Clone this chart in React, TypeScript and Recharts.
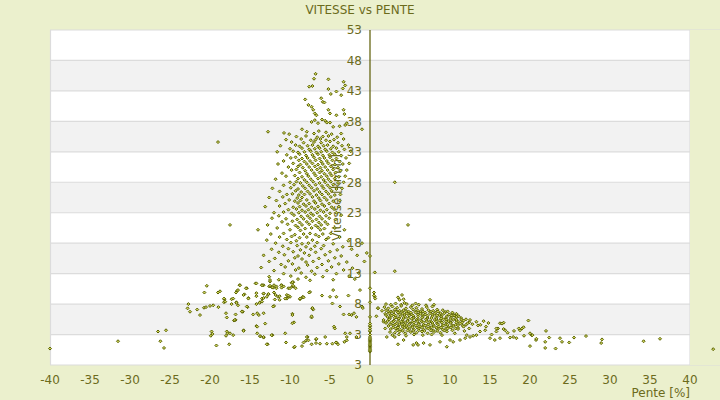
import React from "react";
import {
  ScatterChart,
  Scatter,
  XAxis,
  YAxis,
  CartesianGrid,
  ReferenceArea,
  ReferenceLine,
} from "recharts";

if (typeof document !== "undefined") document.body.style.margin = "0";

// ---- data (pente %, vitesse km/h) ----
const X_TICKS = [-40, -35, -30, -25, -20, -15, -10, -5, 0, 5, 10, 15, 20, 25, 30, 35, 40];
const Y_TICKS = [-2, 3, 8, 13, 18, 23, 28, 33, 38, 43, 48, 53];
const Y_TICK_LABELS = ["3", "3", "8", "13", "18", "23", "28", "33", "38", "43", "48", "53"];

// steep downhill, high speed
const DOWNHILL_FAST: [number, number][] = [
  [-6.8, 45.8], [-7.0, 45.0], [-5.2, 44.9], [-3.3, 44.5], [-7.6, 43.7], [-7.2, 43.8], [-3.1, 43.9],
  [-5.2, 43.3], [-3.4, 43.4], [-4.2, 42.9], [-4.9, 42.5], [-3.6, 42.3], [-8.1, 41.6], [-6.1, 41.8],
  [-5.9, 41.2], [-5.7, 41.1], [-7.7, 40.7], [-7.3, 40.4], [-7.1, 39.9], [-5.2, 39.9], [-3.3, 39.9],
  [-6.9, 39.3], [-5.0, 39.3], [-3.2, 39.2], [-6.7, 39.0], [-4.2, 39.0],
  [-7.3, 37.9], [-6.9, 38.2], [-6.0, 38.3], [-5.6, 38.1], [-6.5, 37.7], [-5.4, 37.8], [-5.0, 37.8], [-2.9, 37.7],
  [-4.6, 37.1], [-3.8, 37.2], [-3.1, 37.4], [-8.5, 36.7], [-1.0, 36.7],
  [-12.75, 36.3], [-7.9, 36.3], [-6.4, 36.4], [-5.5, 36.2], [-10.75, 36.1], [-10.1, 35.9], [-7.0, 36.0], [-4.8, 35.9], [-3.6, 36.0],
  [-9.2, 35.5], [-8.0, 35.6], [-6.6, 35.4], [-5.9, 35.5], [-5.2, 35.6], [-4.1, 35.4],
  [-10.5, 35.0], [-8.6, 35.1], [-7.4, 34.9], [-6.8, 35.0], [-6.2, 35.1], [-5.5, 34.9], [-4.5, 35.0], [-3.3, 35.1],
  [-19.0, 34.6], [-9.8, 34.6], [-8.3, 34.5], [-7.0, 34.6], [-6.1, 34.5], [-5.0, 34.7], [-4.0, 34.5],
  [-11.2, 34.0], [-9.3, 34.1], [-8.8, 33.9], [-7.8, 34.0], [-7.2, 34.1], [-6.5, 33.9], [-5.8, 34.0], [-5.3, 34.1], [-4.6, 33.9], [-3.5, 34.0], [-2.7, 34.1],
  [-10.0, 33.5], [-8.5, 33.6], [-7.6, 33.4], [-6.9, 33.5], [-6.3, 33.6], [-5.6, 33.4], [-4.9, 33.5], [-4.2, 33.6], [-3.2, 33.4],
  [-11.6, 33.0], [-9.6, 33.1], [-9.0, 32.9], [-8.2, 33.0], [-7.4, 33.1], [-6.7, 32.9], [-6.1, 33.0], [-5.4, 33.1], [-4.7, 32.9], [-3.9, 33.0], [-2.4, 33.1],
  [-10.4, 32.5], [-8.8, 32.6], [-8.0, 32.4], [-7.2, 32.5], [-6.5, 32.6], [-5.9, 32.4], [-5.1, 32.5], [-4.4, 32.6], [-3.6, 32.4],
  [-9.9, 32.0], [-9.3, 32.1], [-8.5, 31.9], [-7.8, 32.0], [-7.0, 32.1], [-6.3, 31.9], [-5.7, 32.0], [-5.0, 32.1], [-4.2, 31.9], [-3.0, 32.0],
  [-10.8, 31.5], [-8.9, 31.6], [-8.2, 31.4], [-7.5, 31.5], [-6.8, 31.6], [-6.1, 31.4], [-5.4, 31.5], [-4.7, 31.6], [-3.8, 31.4],
  [-11.5, 31.0], [-9.6, 31.1], [-8.7, 30.9], [-7.9, 31.0], [-7.2, 31.1], [-6.5, 30.9], [-5.9, 31.0], [-5.2, 31.1], [-4.4, 30.9], [-3.4, 31.0], [-2.6, 31.1],
  [-10.2, 30.5], [-9.0, 30.6], [-8.4, 30.4], [-7.6, 30.5], [-6.9, 30.6], [-6.2, 30.4], [-5.6, 30.5], [-4.9, 30.6], [-4.0, 30.4],
  [-9.8, 30.0], [-9.2, 30.1], [-8.1, 29.9], [-7.3, 30.0], [-6.6, 30.1], [-6.0, 29.9], [-5.3, 30.0], [-4.6, 30.1], [-3.7, 29.9], [-2.9, 30.0],
  [-11.0, 29.5], [-8.8, 29.6], [-7.9, 29.4], [-7.0, 29.5], [-6.3, 29.6], [-5.7, 29.4], [-5.0, 29.5], [-4.3, 29.6],
  [-10.5, 29.0], [-9.4, 29.1], [-8.5, 28.9], [-7.7, 29.0], [-6.8, 29.1], [-6.1, 28.9], [-5.4, 29.0], [-4.8, 29.1], [-3.9, 28.9], [-3.1, 29.0],
  [-11.8, 28.5], [-9.0, 28.6], [-8.2, 28.4], [-7.4, 28.5], [-6.5, 28.6], [-5.8, 28.4], [-5.2, 28.5], [-4.4, 28.6],
  [-10.0, 28.0], [-9.2, 28.1], [-8.7, 27.9], [-7.9, 28.0], [-7.1, 28.1], [-6.3, 27.9], [-5.6, 28.0], [-4.9, 28.1], [-4.0, 27.9], [-3.3, 28.0],
  [-10.8, 27.5], [-9.5, 27.6], [-8.4, 27.4], [-7.6, 27.5], [-6.8, 27.6], [-6.0, 27.4], [-5.3, 27.5], [-4.6, 27.6],
  [-12.2, 27.0], [-9.9, 27.1], [-9.0, 26.9], [-8.1, 27.0], [-7.3, 27.1], [-6.6, 26.9], [-5.8, 27.0], [-5.0, 27.1], [-4.2, 26.9], [-3.5, 27.0],
  [-11.3, 26.5], [-9.3, 26.6], [-8.6, 26.4], [-7.8, 26.5], [-7.0, 26.6], [-6.3, 26.4], [-5.5, 26.5], [-4.8, 26.6],
  [-10.4, 26.0], [-9.7, 26.1], [-8.9, 25.9], [-8.2, 26.0], [-7.5, 26.1], [-6.7, 25.9], [-6.0, 26.0], [-5.2, 26.1], [-4.4, 25.9], [-3.7, 26.0],
  [-12.6, 25.5], [-10.9, 25.6], [-9.1, 25.4], [-8.5, 25.5], [-7.2, 25.6], [-6.4, 25.4], [-5.7, 25.5], [-4.9, 25.6],
  [-11.7, 25.0], [-10.1, 25.1], [-9.4, 24.9], [-8.7, 25.0], [-7.9, 25.1], [-7.0, 24.9], [-6.2, 25.0], [-5.4, 25.1], [-4.6, 24.9], [-3.8, 25.0],
  [-10.6, 24.5], [-9.0, 24.6], [-8.3, 24.4], [-7.6, 24.5], [-6.8, 24.6], [-6.0, 24.4], [-5.1, 24.5],
  [-13.1, 24.0], [-11.3, 24.1], [-9.6, 23.9], [-8.8, 24.0], [-8.0, 24.1], [-7.3, 23.9], [-6.5, 24.0], [-5.7, 24.1], [-4.8, 23.9], [-3.9, 24.0],
  [-10.2, 23.5], [-9.2, 23.6], [-8.5, 23.4], [-7.7, 23.5], [-6.9, 23.6], [-6.2, 23.4], [-5.4, 23.5], [-4.5, 23.6],
  [-12.0, 23.0], [-10.8, 23.1], [-9.8, 22.9], [-8.9, 23.0], [-8.1, 23.1], [-7.4, 22.9], [-6.6, 23.0], [-5.8, 23.1], [-5.0, 22.9], [-4.2, 23.0],
  [-11.4, 22.5], [-9.5, 22.6], [-8.6, 22.4], [-7.8, 22.5], [-7.1, 22.6], [-6.3, 22.4], [-5.5, 22.5], [-3.6, 22.6],
  [-12.25, 22.1], [-10.5, 22.0], [-9.1, 21.9], [-8.3, 22.0], [-7.5, 22.1], [-6.7, 21.9], [-6.0, 22.0], [-5.1, 22.1], [-4.3, 21.9],
  [-11.0, 21.5], [-9.7, 21.6], [-8.8, 21.4], [-7.9, 21.5], [-7.2, 21.6], [-6.4, 21.4], [-5.6, 21.5],
  [-17.5, 21.0], [-12.8, 21.0], [-10.3, 21.1], [-9.3, 20.9], [-8.5, 21.0], [-7.6, 21.1], [-6.8, 20.9], [-6.1, 21.0], [-5.3, 21.1],
  [-11.6, 20.5], [-9.0, 20.6], [-8.1, 20.4], [-7.3, 20.5], [-6.5, 20.6], [-5.7, 20.4], [-4.4, 20.5],
  [-14.0, 20.2], [-10.0, 20.2], [-8.7, 20.1], [-6.2, 20.2], [-3.2, 20.2],
  [-12.4, 19.5], [-10.8, 19.6], [-9.4, 19.4], [-8.3, 19.5], [-7.5, 19.6], [-6.8, 19.4], [-5.9, 19.5], [-4.9, 19.6],
  [-11.3, 19.0], [-9.8, 19.1], [-8.8, 18.9], [-7.9, 19.0], [-6.4, 19.1], [-5.2, 18.9], [-3.8, 19.0],
  [-12.9, 18.5], [-10.4, 18.6], [-9.2, 18.4], [-7.2, 18.5], [-5.5, 18.6], [-2.7, 18.4],
  [-11.8, 18.0], [-9.9, 18.1], [-8.5, 17.9], [-7.7, 18.0], [-6.6, 18.1], [-4.6, 17.9], [-1.0, 18.0],
  [-10.9, 17.5], [-9.1, 17.6], [-8.0, 17.4], [-6.9, 17.5], [-5.8, 17.6], [-3.4, 17.4],
  [-12.3, 17.0], [-10.2, 17.1], [-8.7, 16.9], [-7.4, 17.0], [-6.1, 17.1], [-4.1, 16.9], [-2.3, 17.0],
  [-11.4, 16.5], [-9.6, 16.6], [-8.2, 16.4], [-6.8, 16.5], [-5.0, 16.6], [-0.4, 16.4],
  [-13.3, 16.0], [-10.7, 16.1], [-9.0, 15.9], [-7.6, 16.0], [-5.6, 16.1], [-3.6, 15.9], [-1.6, 16.0],
  [-11.9, 15.5], [-9.4, 15.6], [-8.5, 15.4], [-6.4, 15.5], [-4.4, 15.6],
  [-12.6, 15.0], [-10.2, 15.1], [-8.0, 14.9], [-7.1, 15.0], [-5.2, 15.1], [-2.9, 14.9], [-0.7, 15.0],
  [-11.1, 14.5], [-9.7, 14.6], [-7.8, 14.4], [-6.0, 14.5], [-3.9, 14.6],
  [-13.6, 14.0], [-10.6, 14.1], [-8.9, 13.9], [-6.6, 14.0], [-4.8, 14.1], [-2.2, 13.9],
  [-12.0, 13.5], [-9.3, 13.6], [-7.3, 13.4], [-5.4, 13.5], [-3.3, 13.6],
  [-10.8, 13.0], [-8.6, 13.1], [-6.9, 12.9], [-4.2, 13.0], [-1.4, 13.1],
  [-12.6, 12.5], [-9.9, 12.6], [-8.0, 12.4], [-5.9, 12.5], [-2.6, 12.6],
  [-11.4, 12.0], [-9.0, 12.1], [-7.5, 11.9], [-4.6, 12.0], [-1.9, 12.1],
];

// downhill, low speed
const DOWNHILL_SLOW: [number, number][] = [
  [-40, 0.7], [-31.5, 1.9], [-26.5, 3.5], [-25.5, 3.7], [-26.2, 1.9], [-25.75, 0.8],
  [-22.7, 8.0], [-22.8, 7.3], [-22.5, 6.75], [-21.6, 7.1], [-21.25, 6.2], [-20.75, 7.4], [-20.5, 7.5],
  [-20.0, 7.7], [-19.6, 7.8], [-18.95, 7.5], [-20.4, 11.0], [-20.7, 9.9], [-19.0, 9.9], [-18.75, 10.1],
  [-16.3, 11.1], [-16.6, 10.2], [-16.75, 9.9], [-18.2, 8.8], [-18.25, 8.3], [-17.3, 8.8], [-17.1, 8.9],
  [-17.3, 8.0], [-16.7, 8.3], [-16.5, 7.8], [-19.8, 3.5], [-19.7, 3.1], [-19.9, 2.8], [-19.2, 1.2],
  [-18.0, 6.5], [-16.8, 6.3], [-17.0, 5.3], [-17.9, 3.5], [-17.8, 3.2], [-18.0, 2.8], [-17.6, 1.4],
  [-17.1, 2.9], [-15.8, 3.7], [-16.0, 6.8], [-15.3, 7.5], [-14.6, 6.3], [-14.1, 6.5], [-14.2, 4.4],
  [-14.1, 3.2], [-13.7, 2.7], [-13.3, 2.5], [-13.1, 4.8], [-12.8, 1.4], [-12.2, 2.9], [-12.0, 7.7],
  [-10.6, 3.2], [-10.5, 1.7], [-9.7, 6.4], [-9.5, 5.0], [-9.5, 0.9], [-8.5, 1.1], [-8.3, 1.7],
  [-8.0, 2.0], [-7.8, 2.6], [-8.4, 9.1], [-8.75, 8.8], [-9.7, 10.9], [-9.6, 11.6], [-10.2, 9.2],
  [-10.4, 8.9], [-11.5, 9.2], [-11.3, 8.7], [-12.0, 9.9], [-12.3, 10.8], [-12.5, 11.7], [-13.3, 9.7],
  [-13.75, 8.3], [-14.2, 9.8], [-14.3, 11.4], [-13.3, 11.1], [-12.7, 9.6], [-15.2, 9.0], [-15.4, 10.6],
  [-15.7, 9.6], [-17.9, 5.8], [-17.5, 3.2], [-16.8, 5.4], [-15.9, 6.75], [-15.8, 3.6], [-14.1, 4.3],
  [-13.75, 2.75], [-6.75, 2.2], [-6.75, 1.6], [-7.3, 5.8], [-7.1, 7.1], [-7.2, 7.3],
  [-16.25, 11.1], [-16.5, 10.3], [-15.5, 10.6], [-15.8, 9.5], [-15.4, 7.6], [-16.0, 6.75], [-16.9, 5.4],
  [-14.2, 11.4], [-14.2, 9.3], [-14.2, 8.0], [-13.5, 11.1], [-13.3, 9.75], [-12.9, 9.2], [-13.5, 8.4],
  [-12.5, 11.95], [-12.6, 10.9], [-12.1, 10.7], [-11.7, 10.9], [-11.05, 11.1], [-10.8, 10.9],
  [-11.9, 8.75], [-12.1, 7.6], [-13.3, 6.5], [-13.9, 6.2], [-13.3, 2.6], [-12.9, 1.4], [-12.3, 2.9],
  [-11.05, 10.7], [-10.2, 10.6], [-9.8, 11.5], [-9.6, 10.9], [-10.4, 9.5], [-10.6, 8.9], [-10.0, 9.2],
  [-9.7, 6.2], [-9.7, 4.85], [-9.4, 1.0], [-8.75, 8.9], [-8.4, 9.2], [-7.5, 10.0], [-7.2, 7.35],
  [-7.3, 6.0], [-7.9, 2.6], [-7.3, 1.4], [-7.7, 2.05], [-6.7, 2.3], [-6.25, 1.5], [-6.0, 9.4],
  [-5.6, 2.6], [-5.4, 1.5], [-5.0, 9.2], [-4.6, 10.3], [-4.7, 8.1], [-4.2, 9.2], [-4.2, 1.7],
  [-4.5, 4.3], [-4.4, 4.0], [-4.0, 1.4], [-3.75, 7.6], [-3.3, 6.3], [-2.9, 2.6], [-2.7, 9.4],
  [-2.6, 6.3], [-2.5, 3.2], [-2.3, 6.2], [-2.0, 6.5], [-1.7, 5.9], [-1.25, 10.3], [-1.0, 7.6],
  [-0.9, 7.35], [-1.7, 2.6], [-3.1, 3.2], [-2.9, 2.05], [-3.2, 1.8], [-4.25, 1.7], [-4.7, 1.5],
  [-18.25, 8.9], [-18.1, 8.4], [-16.7, 8.2], [-15.2, 8.9], [-13.8, 8.2], [-13.5, 8.9], [-13.3, 9.0],
  [-13.5, 11.1], [-12.7, 9.65], [-12.5, 11.0], [-12.2, 10.75], [-12.0, 11.1], [-11.7, 10.6],
  [-11.8, 9.5], [-11.3, 9.3], [-11.1, 11.1], [-10.2, 9.4], [-10.0, 10.6], [-9.7, 11.6], [-9.6, 11.0],
  [-9.3, 10.6], [-8.3, 9.1], [-7.6, 9.9],
];

// flat road (pente 0)
const FLAT: [number, number][] = [
  [0, 0.2], [0, 0.4], [0, 0.6], [0, 0.8], [0, 1.0], [0, 1.2], [0, 1.4], [0, 1.6], [0, 1.8], [0, 2.0],
  [0, 2.2], [0, 2.4], [0, 2.6], [0, 3.0], [0, 3.5], [0, 3.7], [0, 4.0], [0, 4.3], [0, 4.5], [0, 4.8],
  [0, 5.9], [0, 8.3], [0, 10.6], [0, 15.9],
];

// uphill core
const UPHILL_CORE: [number, number][] = [
  [2.0, 8.0], [2.6, 7.9], [3.2, 8.1], [3.9, 7.9], [4.6, 8.0], [5.3, 7.8], [6.1, 7.9], [7.0, 7.8], [8.0, 7.9],
  [1.8, 7.5], [2.3, 7.3], [2.8, 7.6], [3.4, 7.4], [3.9, 7.7], [4.5, 7.3], [5.1, 7.5], [5.8, 7.4], [6.5, 7.2], [7.1, 7.5], [7.8, 7.6], [8.4, 7.1],
  [1.5, 6.9], [2.0, 7.0], [2.6, 6.8], [3.1, 7.1], [3.7, 6.9], [4.2, 7.0], [4.8, 6.8], [5.4, 7.1], [6.0, 6.9], [6.6, 6.8], [7.3, 7.0], [7.9, 6.9], [8.5, 6.8], [9.1, 7.0], [9.7, 6.8], [10.3, 6.6], [10.8, 6.4],
  [2.3, 6.75], [2.9, 6.7], [3.4, 6.8], [4.0, 6.7], [4.5, 6.75], [5.1, 6.6], [5.7, 6.8], [6.3, 6.7], [6.9, 6.6], [7.6, 6.75], [8.2, 6.6], [8.8, 6.5], [9.4, 6.7],
  [1.9, 6.4], [2.4, 6.5], [3.0, 6.3], [3.5, 6.6], [4.1, 6.4], [4.6, 6.5], [5.2, 6.3], [5.7, 6.6], [6.3, 6.4], [6.9, 6.3], [7.5, 6.5], [8.1, 6.4], [8.7, 6.2], [9.3, 6.5], [9.9, 6.3], [10.5, 6.1], [11.1, 6.0],
  [2.0, 6.2], [2.6, 6.2], [3.2, 6.1], [3.7, 6.3], [4.3, 6.2], [4.9, 6.25], [5.4, 6.1], [6.0, 6.3], [6.6, 6.2], [7.2, 6.1], [7.8, 6.25], [8.4, 6.1], [9.0, 6.2], [9.6, 6.0], [10.2, 6.1], [10.8, 5.9],
  [2.2, 5.9], [2.7, 6.1], [3.3, 5.8], [3.8, 6.0], [4.4, 5.9], [4.9, 6.1], [5.5, 5.8], [6.0, 6.0], [6.6, 5.9], [7.2, 5.7], [7.8, 6.0], [8.3, 5.8], [8.9, 5.9], [9.5, 5.7], [10.1, 5.8], [10.7, 5.6], [11.4, 5.7], [12.0, 5.5],
  [2.5, 5.7], [3.1, 5.75], [3.6, 5.6], [4.2, 5.7], [4.8, 5.65], [5.4, 5.7], [6.0, 5.55], [6.5, 5.75], [7.1, 5.6], [7.7, 5.7], [8.3, 5.55], [8.9, 5.65], [9.5, 5.5], [10.1, 5.55], [10.8, 5.4], [11.4, 5.4],
  [1.7, 5.4], [2.4, 5.5], [3.0, 5.3], [3.6, 5.6], [4.1, 5.4], [4.7, 5.3], [5.2, 5.6], [5.8, 5.4], [6.4, 5.3], [7.0, 5.5], [7.5, 5.2], [8.1, 5.4], [8.7, 5.3], [9.2, 5.5], [9.8, 5.2], [10.4, 5.4], [11.0, 5.1], [11.7, 5.3], [12.4, 5.0],
  [2.2, 5.2], [2.9, 5.15], [3.5, 5.2], [4.1, 5.1], [4.7, 5.2], [5.3, 5.1], [5.9, 5.2], [6.5, 5.1], [7.1, 5.2], [7.7, 5.05], [8.3, 5.15], [8.9, 5.05], [9.5, 5.1], [10.1, 5.0], [10.8, 5.0], [11.5, 4.95], [12.2, 4.85],
  [2.0, 4.9], [2.7, 5.0], [3.3, 4.8], [3.9, 5.1], [4.4, 4.9], [5.0, 4.8], [5.5, 5.0], [6.1, 4.8], [6.7, 5.0], [7.3, 4.7], [7.8, 4.9], [8.4, 4.8], [9.0, 5.0], [9.5, 4.7], [10.1, 4.9], [10.7, 4.6], [11.3, 4.8], [12.0, 4.6], [12.8, 4.7], [13.5, 4.5],
  [2.5, 4.7], [3.1, 4.65], [3.7, 4.7], [4.3, 4.6], [4.9, 4.7], [5.5, 4.6], [6.1, 4.7], [6.7, 4.55], [7.3, 4.65], [7.9, 4.6], [8.5, 4.7], [9.1, 4.55], [9.7, 4.6], [10.3, 4.5], [11.0, 4.55], [11.6, 4.45],
  [2.3, 4.4], [2.9, 4.5], [3.5, 4.3], [4.0, 4.6], [4.6, 4.4], [5.2, 4.3], [5.7, 4.5], [6.3, 4.3], [6.9, 4.5], [7.5, 4.2], [8.0, 4.4], [8.6, 4.3], [9.2, 4.5], [9.8, 4.2], [10.4, 4.4], [11.0, 4.1], [11.7, 4.3], [12.4, 4.0],
  [2.9, 4.2], [3.5, 4.15], [4.1, 4.25], [4.7, 4.1], [5.3, 4.2], [5.9, 4.15], [6.5, 4.2], [7.1, 4.1], [7.7, 4.2], [8.3, 4.1], [8.9, 4.15], [9.5, 4.05], [10.1, 4.15], [10.7, 4.0],
  [2.6, 3.9], [3.2, 4.0], [3.8, 3.8], [4.3, 4.1], [4.9, 3.9], [5.5, 3.8], [6.1, 4.0], [6.7, 3.8], [7.3, 4.0], [7.9, 3.7], [8.5, 3.9], [9.1, 3.8], [9.7, 4.0], [10.3, 3.7], [11.0, 3.9], [11.8, 3.6],
  [3.4, 3.7], [4.1, 3.6], [4.7, 3.65], [5.4, 3.6], [6.1, 3.7], [6.8, 3.6], [7.6, 3.65], [8.4, 3.6], [9.3, 3.65],
  [2.5, 3.4], [3.1, 3.3], [3.7, 3.5], [4.4, 3.2], [5.1, 3.4], [5.8, 3.3], [6.5, 3.5], [7.2, 3.2], [8.0, 3.4], [8.8, 3.3], [9.6, 3.5], [10.6, 3.2],
  [2.8, 2.9], [3.6, 3.0], [4.5, 2.8], [5.5, 3.0], [6.6, 2.9], [7.7, 3.0], [9.0, 2.9],
];

// uphill spread and tail
const UPHILL_TAIL: [number, number][] = [
  [0.5, 9.9], [0.6, 9.2], [0.8, 6.0], [1.0, 7.3], [1.7, 5.1], [1.9, 4.0], [2.1, 2.6], [3.1, 2.6],
  [3.5, 1.4], [4.2, 2.1], [5.4, 1.3], [5.8, 1.6], [6.0, 1.3], [6.7, 1.6], [7.5, 1.3], [8.75, 1.8],
  [9.6, 1.0], [10.0, 2.1], [10.4, 1.8], [11.25, 2.1], [11.9, 2.4], [12.1, 2.9], [12.5, 2.6], [12.9, 2.8],
  [13.3, 2.9], [13.75, 3.5], [14.4, 3.7], [15.0, 2.4], [12.5, 5.4], [13.3, 5.1], [14.2, 5.2],
  [3.5, 9.1], [4.0, 9.5], [4.2, 8.8], [3.7, 8.7], [4.3, 8.2], [5.7, 8.1], [7.5, 8.7], [10.8, 6.3],
  [10.3, 6.5], [10.6, 6.1], [3.1, 13.4], [3.1, 28.0], [4.75, 21.0], [0.6, 13.2], [0.5, 9.4],
  [0.65, 8.9], [1.0, 7.35],
  [16.25, 4.85], [16.7, 4.95], [16.0, 4.0], [15.8, 3.5], [16.25, 2.4], [15.6, 2.1], [16.9, 3.7],
  [17.9, 2.6], [18.75, 3.7], [19.0, 4.0], [19.8, 5.3], [20.0, 3.2], [20.2, 2.9], [20.0, 1.1],
  [20.75, 2.1], [22.0, 3.6], [21.9, 1.8], [21.9, 0.8], [22.4, 2.5], [23.2, 0.7], [23.75, 2.4],
  [24.0, 1.8], [24.9, 1.7], [25.5, 2.5], [27.0, 2.75], [29.0, 2.2], [28.9, 1.6], [34.2, 1.9],
  [36.25, 2.3], [42.9, 0.6], [16.5, 4.8], [16.7, 3.9], [15.8, 4.0], [18.0, 3.6], [18.6, 4.0],
  [19.2, 4.2], [20.3, 2.9], [20.8, 2.3], [19.25, 2.8], [18.3, 2.4], [17.5, 2.5], [14.5, 4.3],
  [15.2, 3.0], [13.8, 4.6], [14.8, 4.9], [17.2, 3.3],
];

// ---- layout / style ----
const CHART_W = 720;
const CHART_H = 400;
const PLOT_LEFT = 50;
const PLOT_TOP = 30;
const X_AXIS_H = 35;
const Y_AXIS_W = 1;
const X_MIN = -40;
const X_MAX = 43.75;
const X_END = 40;
const Y_MIN = -2;
const Y_MAX = 53;

const TEXT = "#6b6b1c";
const AXIS = "#5a5a00";
const GRID = "#dcdcdc";
const BAND = "#f2f2f2";
const BG = "#ebf0cd";
const MARK_STROKE = "#5a6200";
const MARK_FILL = "#cdd35c";

const xToPx = (v: number) =>
  PLOT_LEFT + ((v - X_MIN) / (X_MAX - X_MIN)) * (CHART_W - PLOT_LEFT);
const X_ZERO_PX = xToPx(0);

const toPoints = (arr: [number, number][]) => arr.map(([x, y]) => ({ x, y }));
const allPoints = [
  ...toPoints(DOWNHILL_SLOW),
  ...toPoints(DOWNHILL_FAST),
  ...toPoints(FLAT),
  ...toPoints(UPHILL_TAIL),
  ...toPoints(UPHILL_CORE),
];

function Diamond(props: any) {
  const { cx, cy } = props;
  if (cx == null || cy == null) return null;
  const r = 1.5;
  return (
    <path
      d={`M${cx},${cy - r}L${cx + r},${cy}L${cx},${cy + r}L${cx - r},${cy}Z`}
      fill={MARK_FILL}
      stroke={MARK_STROKE}
      strokeWidth={1}
    />
  );
}

function YTick(props: any) {
  const { y, payload } = props;
  const label = Y_TICK_LABELS[Y_TICKS.indexOf(payload.value)];
  return (
    <text
      x={X_ZERO_PX - 8}
      y={y}
      dy="0.355em"
      textAnchor="end"
      fill={TEXT}
      fontSize={12}
    >
      {label}
    </text>
  );
}

export default function App() {
  const plotMidY = PLOT_TOP + (CHART_H - PLOT_TOP - X_AXIS_H) / 2;
  return (
    <div
      style={{
        position: "relative",
        width: CHART_W,
        height: CHART_H,
        background: BG,
        fontFamily: "'DejaVu Sans', sans-serif",
      }}
    >
      <div
        style={{
          position: "absolute",
          top: 3,
          left: 0,
          width: CHART_W,
          textAlign: "center",
          fontSize: 12,
          color: TEXT,
          lineHeight: "14px",
        }}
      >
        VITESSE vs PENTE
      </div>
      <ScatterChart
        width={CHART_W}
        height={CHART_H}
        margin={{ top: PLOT_TOP, right: 0, bottom: 0, left: PLOT_LEFT - Y_AXIS_W }}
      >
        <CartesianGrid
          stroke={GRID}
          strokeWidth={1.2}
          fill="#ffffff"
          horizontalFill={["#ffffff", BAND]}
          fillOpacity={1}
          verticalCoordinatesGenerator={() => [xToPx(X_MIN) + 0.5, xToPx(X_END)]}
        />
        <ReferenceArea
          x1={X_END}
          x2={X_MAX}
          y1={Y_MIN}
          y2={Y_MAX}
          fill={BG}
          fillOpacity={1}
          stroke="none"
        />
        <XAxis
          type="number"
          dataKey="x"
          domain={[X_MIN, X_MAX]}
          ticks={X_TICKS}
          interval={0}
          height={X_AXIS_H}
          axisLine={false}
          tickLine={false}
          tickMargin={4}
          tick={{ fill: TEXT, fontSize: 12 }}
          label={{
            content: () => (
              <text
                x={xToPx(X_END)}
                y={CHART_H - 7}
                dy="0.355em"
                textAnchor="end"
                fill={TEXT}
                fontSize={12}
              >
                Pente [%]
              </text>
            ),
          }}
        />
        <YAxis
          type="number"
          dataKey="y"
          domain={[Y_MIN, Y_MAX]}
          ticks={Y_TICKS}
          interval={0}
          width={Y_AXIS_W}
          axisLine={false}
          tickLine={false}
          tick={<YTick />}
          label={{
            content: () => (
              <text
                x={X_ZERO_PX - 33}
                y={plotMidY}
                dy="0.355em"
                textAnchor="middle"
                fill={TEXT}
                fontSize={12}
                transform={`rotate(-90, ${X_ZERO_PX - 33}, ${plotMidY})`}
              >
                Vitesse [km/h]
              </text>
            ),
          }}
        />
        <Scatter
          data={allPoints}
          shape={<Diamond />}
          isAnimationActive={false}
        />
        <ReferenceLine x={0} stroke={AXIS} strokeWidth={1.2} />
      </ScatterChart>
    </div>
  );
}
